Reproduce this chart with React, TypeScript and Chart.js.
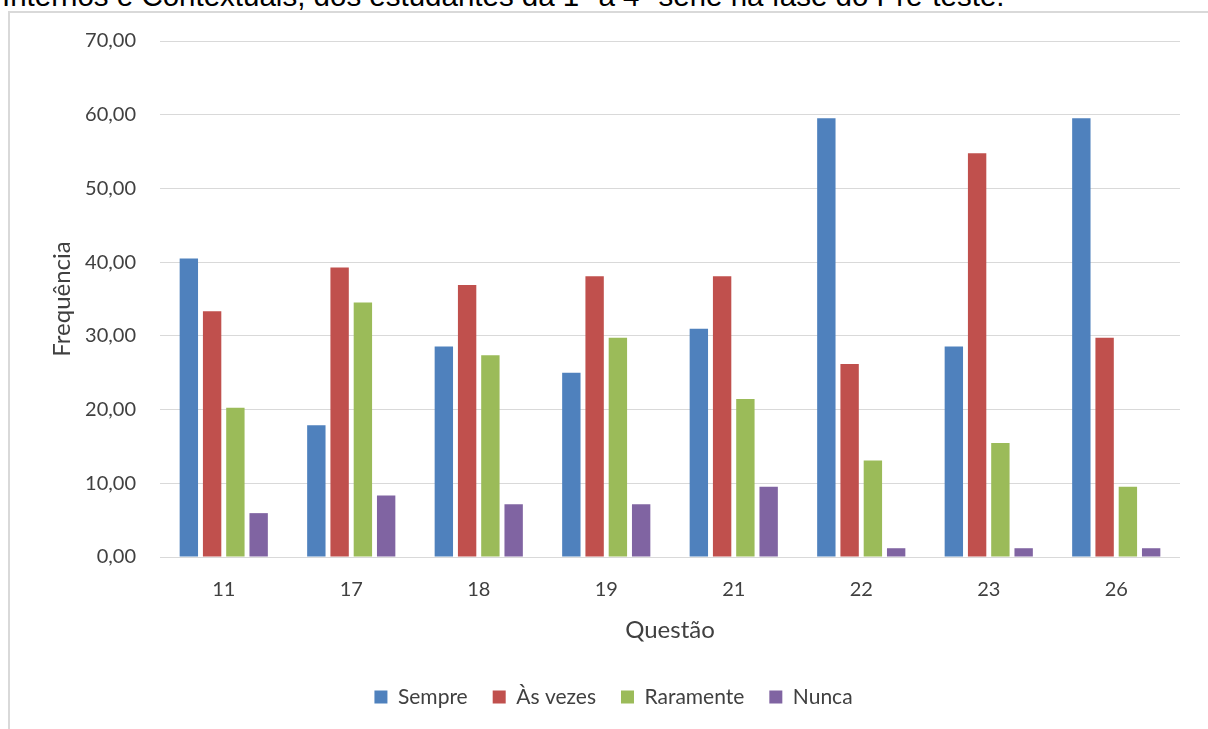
import React, { useEffect, useRef } from "react";
import { Chart, registerables } from "chart.js";

Chart.register(...registerables);

const categories = ["11", "17", "18", "19", "21", "22", "23", "26"];
const sempre = [40.48, 17.86, 28.57, 25.0, 30.95, 59.52, 28.57, 59.52];
const asVezes = [33.33, 39.29, 36.9, 38.1, 38.1, 26.19, 54.76, 29.76];
const raramente = [20.24, 34.52, 27.38, 29.76, 21.43, 13.1, 15.48, 9.52];
const nunca = [5.95, 8.33, 7.14, 7.14, 9.52, 1.19, 1.19, 1.19];
const yTicks = [0, 10, 20, 30, 40, 50, 60, 70];
const seriesNames = ["Sempre", "Às vezes", "Raramente", "Nunca"];
const seriesColors = ["#4F81BD", "#C0504D", "#9BBB59", "#8064A2"];

const headingText =
  "Internos e Contextuais, dos estudantes da 1ª a 4ª série na fase do Pré-teste.";

const FONT = "Lato, 'Open Sans', sans-serif";
const TEXT = "#404040";

export default function App() {
  const canvasRef = useRef<HTMLCanvasElement | null>(null);

  useEffect(() => {
    const canvas = canvasRef.current;
    if (!canvas) return;
    const values = [sempre, asVezes, raramente, nunca];
    const chart = new Chart(canvas, {
      type: "bar",
      data: {
        labels: categories,
        datasets: seriesNames.map((name, i) => ({
          label: name,
          data: values[i],
          backgroundColor: seriesColors[i],
          borderWidth: 0,
          categoryPercentage: 0.73,
          barPercentage: 0.79,
        })),
      },
      options: {
        animation: false,
        responsive: false,
        maintainAspectRatio: false,
        layout: { padding: { left: 47, right: 28, top: 41, bottom: 11.5 } },
        plugins: {
          tooltip: { enabled: false },
          legend: {
            position: "bottom",
            labels: {
              boxWidth: 13,
              boxHeight: 13,
              padding: 25,
              color: TEXT,
              font: { family: FONT, size: 21 },
            },
          },
        },
        scales: {
          x: {
            grid: { display: false },
            border: { display: false },
            ticks: { padding: 13, color: TEXT, font: { family: FONT, size: 20 } },
            title: {
              display: true,
              text: "Questão",
              color: TEXT,
              font: { family: FONT, size: 24 },
              padding: { top: 14, bottom: 17 },
            },
            afterFit: (s: any) => {
              s.height = 104.5;
            },
          },
          y: {
            min: 0,
            max: 70,
            afterBuildTicks: (s: any) => {
              s.ticks = yTicks.map((v) => ({ value: v }));
            },
            ticks: {
              padding: 24,
              color: TEXT,
              font: { family: FONT, size: 20 },
              callback: (v: any) => Number(v).toFixed(2).replace(".", ","),
            },
            grid: { color: "#D9D9D9", lineWidth: 1, drawTicks: false },
            border: { display: false },
            title: {
              display: true,
              text: "Frequência",
              color: TEXT,
              font: { family: FONT, size: 24 },
              padding: { top: 1, bottom: 0 },
            },
            afterFit: (s: any) => {
              s.width = 113;
            },
          },
        },
      },
    });
    return () => chart.destroy();
  }, []);

  return (
    <div
      style={{
        position: "fixed",
        left: 0,
        top: 0,
        width: 1208,
        height: 729,
        overflow: "hidden",
        background: "#fff",
      }}
    >
      <div
        style={{
          position: "absolute",
          left: 2,
          top: -19,
          whiteSpace: "nowrap",
          fontFamily: "'Liberation Sans', Arial, sans-serif",
          fontSize: 29.5,
          lineHeight: "29.5px",
          color: "#000",
        }}
      >
        {headingText}
      </div>
      <div
        style={{
          position: "absolute",
          left: 8,
          top: 11,
          width: 1300,
          height: 800,
          border: "2px solid #D9D9D9",
          boxSizing: "border-box",
        }}
      />
      <canvas
        ref={canvasRef}
        width={1208}
        height={729}
        style={{ position: "absolute", left: 0, top: 0, width: 1208, height: 729 }}
      />
    </div>
  );
}
